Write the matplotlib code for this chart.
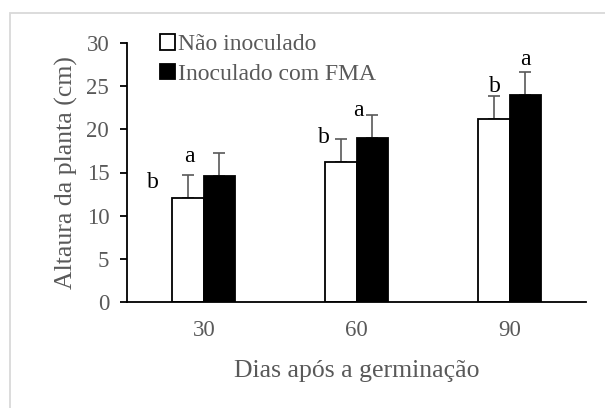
import matplotlib
matplotlib.use("Agg")
import matplotlib.pyplot as plt
from matplotlib.patches import Rectangle
import numpy as np

# Data
dias = ["30", "60", "90"]
nao_inoculado = [12.0, 16.25, 21.2]
nao_inoculado_err = [2.7, 2.65, 2.65]
inoculado = [14.6, 19.0, 24.0]
inoculado_err = [2.7, 2.65, 2.65]
letras_nao = ["b", "b", "b"]
letras_ino = ["a", "a", "a"]

plt.rcParams['font.family'] = ['Liberation Serif', 'DejaVu Serif']
cinza = '#595959'

W, H = 605, 408
fig = plt.figure(figsize=(W / 100, H / 100), dpi=100)
ax = fig.add_axes([127.3 / W, 1 - 302.3 / H, (586 - 127.3) / W, (302.3 - 42.7) / H])

x = np.arange(len(dias))
w = 0.205

ax.bar(x - w / 2, nao_inoculado, w, color='white', edgecolor='black',
       linewidth=1.3, label='Não inoculado', zorder=2)
ax.bar(x + w / 2, inoculado, w, color='black', edgecolor='black',
       linewidth=1.3, label='Inoculado com FMA', zorder=2)

# upper error bars only
ax.errorbar(x - w / 2, nao_inoculado, yerr=[[0] * 3, nao_inoculado_err],
            fmt='none', ecolor=cinza, elinewidth=1.2, capsize=4.3, capthick=1.2, zorder=1)
ax.errorbar(x + w / 2, inoculado, yerr=[[0] * 3, inoculado_err],
            fmt='none', ecolor=cinza, elinewidth=1.2, capsize=4.3, capthick=1.2, zorder=1)

# significance letters (placed like the Excel labels)
pos_nao = [(-0.33, 13.9), (0.786, 19.1), (1.905, 24.9)]
pos_ino = [(-0.096, 16.8), (1.009, 22.2), (2.101, 28.05)]
for (px, py), t in zip(pos_nao, letras_nao):
    ax.text(px, py, t, ha='center', va='center', fontsize=17, color='black')
for (px, py), t in zip(pos_ino, letras_ino):
    ax.text(px, py, t, ha='center', va='center', fontsize=17, color='black')

ax.set_xlim(-0.5, 2.5)
ax.set_ylim(0, 30)
ax.set_yticks(range(0, 31, 5))
ax.set_xticks(x)
ax.set_xticklabels(dias)
ax.tick_params(axis='y', direction='out', length=5, width=1.3, labelsize=16.5,
               labelcolor=cinza, pad=8)
ax.tick_params(axis='x', length=0, labelsize=16.5, labelcolor=cinza, pad=12.5)
for s in ['top', 'right']:
    ax.spines[s].set_visible(False)
ax.spines['left'].set_linewidth(1.3)
ax.spines['bottom'].set_linewidth(1.3)

ax.set_ylabel('Altaura da planta (cm)', fontsize=18.5, color=cinza, labelpad=6)
ax.set_xlabel('Dias após a germinação', fontsize=18.5, color=cinza, labelpad=14)

leg = fig.legend(loc='upper left', bbox_to_anchor=(160 / W, 1 - 34 / H),
                 frameon=False, fontsize=17, handlelength=0.64, handleheight=0.64,
                 handletextpad=0.12, labelspacing=0.36, borderpad=0, borderaxespad=0)
for t in leg.get_texts():
    t.set_color(cinza)

# light frame around the chart area
fig.patches.append(Rectangle((9.5 / W, -0.1), 1.2, 1 - 12.7 / H + 0.1,
                             transform=fig.transFigure, fill=False,
                             edgecolor='#d9d9d9', linewidth=1.3))

fig.savefig('out.png', dpi=100)
